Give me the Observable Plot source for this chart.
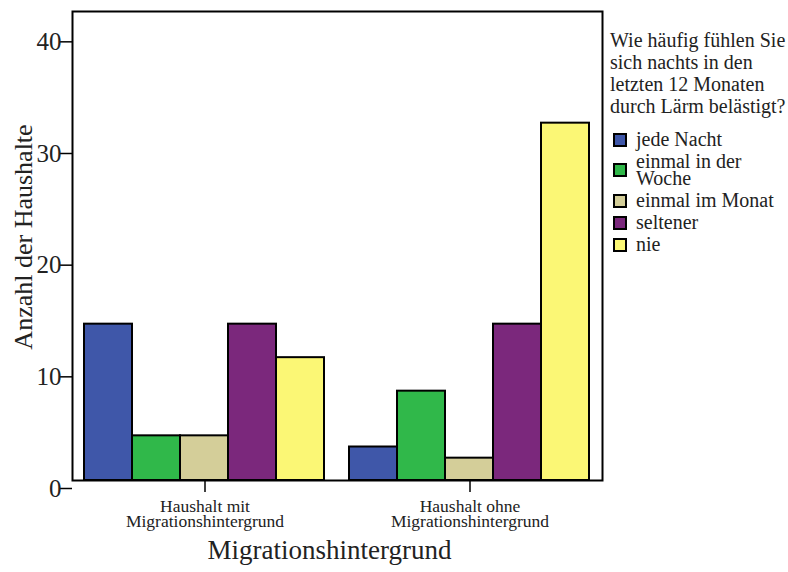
<!DOCTYPE html>
<html><head><meta charset="utf-8">
<script src="https://cdn.jsdelivr.net/npm/d3@7"></script>
<script src="https://cdn.jsdelivr.net/npm/@observablehq/plot@0.6"></script>
<style>
body{margin:0;background:#fff;font-family:"Liberation Serif",serif;}
#wrap{position:relative;width:788px;height:572px;}
#legend{position:absolute;left:610px;top:29px;width:178px;color:#222;font-size:20px;}
#legend .title{line-height:22px;margin-bottom:14px;}
#legend .item{display:flex;align-items:center;margin-bottom:5px;}
#legend .sw{width:10px;height:10px;border:2px solid #000;margin:0 9px 0 3px;flex:none;}
#legend .lab{line-height:17px;max-width:150px;}
</style></head><body>
<div id="wrap"><div id="chart"></div><div id="legend"></div></div>
<script>
const groups = ["Haushalt mit Migrationshintergrund", "Haushalt ohne Migrationshintergrund"];
const categories = ["jede Nacht", "einmal in der Woche", "einmal im Monat", "seltener", "nie"];
const valuesMit = [14, 4, 4, 14, 11];
const valuesOhne = [3, 8, 2, 14, 32];
const colors = ["#3f57a9", "#30b84a", "#d4ce99", "#7b287c", "#fbf775"];
const yTicks = [0, 10, 20, 30, 40];
const legendTitle = "Wie häufig fühlen Sie sich nachts in den letzten 12 Monaten durch Lärm belästigt?";
const xTitle = "Migrationshintergrund";
const yTitle = "Anzahl der Haushalte";

const data = [];
categories.forEach((c, i) => {
  data.push({group: groups[0], category: c, value: valuesMit[i]});
  data.push({group: groups[1], category: c, value: valuesOhne[i]});
});

const chart = Plot.plot({
  width: 788, height: 572,
  marginLeft: 71, marginRight: 186, marginTop: 11, marginBottom: 92,
  style: {fontFamily: "Liberation Serif, serif", color: "#222", background: "#fff"},
  fx: {domain: groups, padding: 0, label: null},
  x: {domain: categories, padding: 0, insetLeft: 12, insetRight: 13, axis: null},
  y: {domain: [0, 42], axis: null},
  color: {domain: categories, range: colors},
  marks: [
    Plot.barY(data, {fx: "group", x: "category", y: "value", fill: "category", stroke: "black", strokeWidth: 2}),
    Plot.axisFx({anchor: "bottom", tickSize: 12, tickPadding: 8, fontSize: 17.5, lineHeight: 0.9, stroke: "black", strokeWidth: 1.5,
      tickFormat: d => d.replace(" Migrations", "\nMigrations"), label: null}),
    Plot.axisY({ticks: yTicks, tickSize: 13, tickPadding: -2, fontSize: 25, dy: 8, label: null, stroke: "black", strokeWidth: 1.5}),
    Plot.frame({stroke: "black", strokeWidth: 2, facet: "super"}),
    Plot.text([yTitle], {text: d => d, frameAnchor: "left", textAnchor: "middle", lineAnchor: "middle", dx: -49, dy: -9, rotate: -90, fontSize: 26, fill: "#222", facet: "super"}),
    Plot.text([xTitle], {text: d => d, frameAnchor: "bottom", dx: -8, dy: 78, fontSize: 27, fill: "#222", facet: "super"})
  ]
});
document.getElementById("chart").appendChild(chart);

const legend = document.getElementById("legend");
const t = document.createElement("div");
t.className = "title";
t.textContent = legendTitle;
legend.appendChild(t);
categories.forEach((c, i) => {
  const it = document.createElement("div");
  it.className = "item";
  const sw = document.createElement("div");
  sw.className = "sw";
  sw.style.background = colors[i];
  const lab = document.createElement("div");
  lab.className = "lab";
  lab.textContent = c;
  it.appendChild(sw); it.appendChild(lab);
  legend.appendChild(it);
});
</script>
</body></html>
